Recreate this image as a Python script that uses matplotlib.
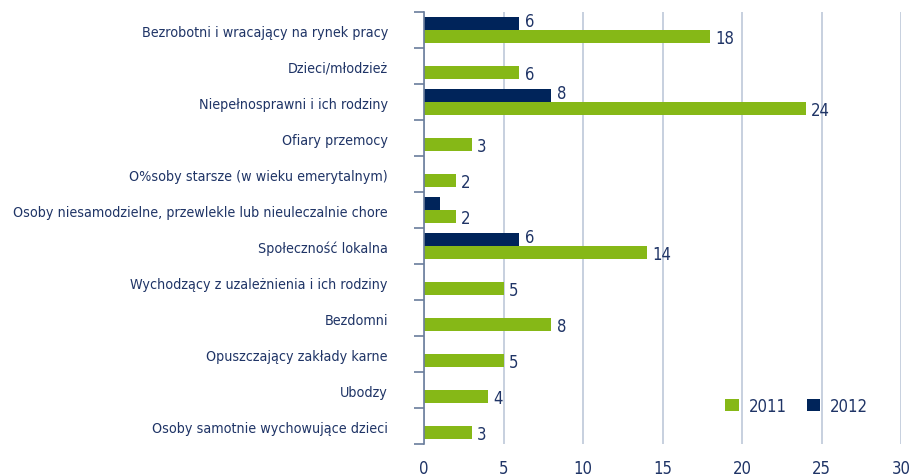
import matplotlib.pyplot as plt
import numpy as np

categories = [
    "Bezrobotni i wracający na rynek pracy",
    "Dzieci/młodzież",
    "Niepełnosprawni i ich rodziny",
    "Ofiary przemocy",
    "O%soby starsze (w wieku emerytalnym)",
    "Osoby niesamodzielne, przewlekle lub nieuleczalnie chore",
    "Społeczność lokalna",
    "Wychodzący z uzależnienia i ich rodziny",
    "Bezdomni",
    "Opuszczający zakłady karne",
    "Ubodzy",
    "Osoby samotnie wychowujące dzieci",
]
vals_2011 = [18, 6, 24, 3, 2, 2, 14, 5, 8, 5, 4, 3]
vals_2012 = [6, 0, 8, 0, 0, 1, 6, 0, 0, 0, 0, 0]
x_ticks = [0, 5, 10, 15, 20, 25, 30]

GREEN = "#86b817"
NAVY = "#00245a"
TXT = "#1f3466"
GRID = "#c3cddc"
AXC = "#6a7d9c"

# condensed face, close to the narrow font of the original
plt.rcParams['font.family'] = ['DejaVu Sans']
plt.rcParams['font.stretch'] = 'condensed'

fig = plt.figure(figsize=(9.1, 4.77), dpi=100)
ax = fig.add_axes([424 / 910, 1 - 445 / 477, 477 / 910, 432 / 477])

y = np.arange(len(categories))
h = 0.35
ax.barh(y + h / 2, vals_2011, height=h, color=GREEN, label="2011", zorder=3)
ax.barh(y - h / 2, vals_2012, height=h, color=NAVY, label="2012", zorder=3)

for yi, v in zip(y, vals_2011):
    ax.annotate(str(v), (v, yi + h / 2), xytext=(4, -1), textcoords="offset points",
                va="center", ha="left", fontsize=12, color=TXT)
for yi, v in zip(y, vals_2012):
    if v >= 2:
        ax.annotate(str(v), (v, yi - h / 2), xytext=(4, 2), textcoords="offset points",
                    va="center", ha="left", fontsize=12, color=TXT)

ax.set_xlim(0, 30)
ax.set_ylim(len(categories) - 0.5, -0.5)
ax.set_xticks(x_ticks)
ax.set_xticklabels([str(t) for t in x_ticks], fontsize=12, color=TXT)
ax.tick_params(axis="x", length=0, pad=11)

ax.set_yticks(y)
ax.set_yticklabels(categories, fontsize=10.3, color=TXT)
ax.tick_params(axis="y", which="major", length=0, pad=26)
ax.set_yticks(np.arange(-0.5, len(categories)), minor=True)
ax.tick_params(axis="y", which="minor", length=7, width=1.2, color=AXC)

ax.grid(axis="x", color=GRID, linewidth=1.3, zorder=0)
for side in ["top", "right", "bottom"]:
    ax.spines[side].set_visible(False)
ax.spines["left"].set_color(AXC)
ax.spines["left"].set_linewidth(1.2)
ax.spines["left"].set_zorder(4)

leg = ax.legend(loc="lower left", bbox_to_anchor=(0.60, 0.033), ncol=2, frameon=False,
                fontsize=12, handlelength=0.8, handleheight=0.8, columnspacing=1.2,
                handletextpad=0.6)
for t in leg.get_texts():
    t.set_color(TXT)

fig.savefig("out.png", dpi=100)
